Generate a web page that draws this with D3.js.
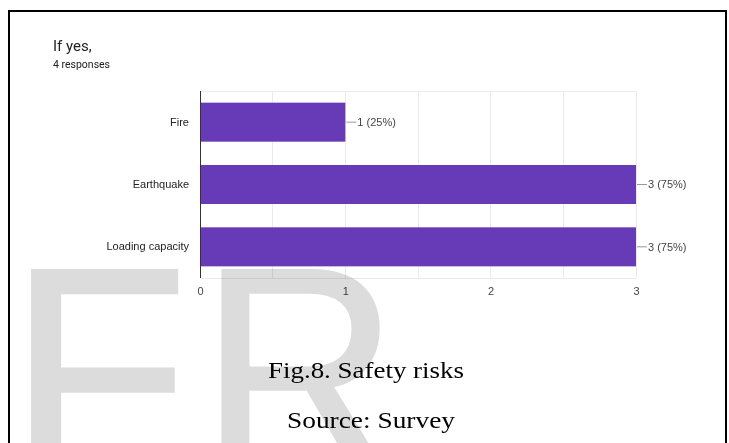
<!DOCTYPE html>
<html>
<head>
<meta charset="utf-8">
<script src="https://cdn.jsdelivr.net/npm/d3@7"></script>
<style>
  html, body { margin: 0; padding: 0; background: #fff; }
  svg { display: block; }
</style>
</head>
<body>
<svg id="chart" width="729" height="443"></svg>
<script>
const categories = ["Fire", "Earthquake", "Loading capacity"];
const counts = [1, 3, 3];
const percents = ["25%", "75%", "75%"];
const tickValues = [0, 1, 2, 3];
const gridValues = [0.5, 1, 1.5, 2, 2.5, 3];
const title = "If yes,";
const subtitle = "4 responses";
const caption = "Fig.8. Safety risks";
const source = "Source: Survey";

(function () {
const svg = d3.select("#chart");
const W = 729, H = 443;

// plot area
const pLeft = 200, pRight = 636, pTop = 91, pBottom = 278;
const x = d3.scaleLinear().domain([0, 3]).range([pLeft, pRight]);
const p = 0.374;
const y = d3.scaleBand().domain(categories).range([pTop, pBottom]).paddingInner(p).paddingOuter(p / 2);

// title
svg.append("text").attr("x", 53).attr("y", 51)
  .attr("font-family", "Roboto, sans-serif").attr("font-size", 15)
  .attr("fill", "#202124").text(title);
svg.append("text").attr("x", 53).attr("y", 68)
  .attr("font-family", "Roboto, sans-serif").attr("font-size", 10.5)
  .attr("fill", "#202124").text(subtitle);

// gridlines
const g = svg.append("g");
g.selectAll("line.v").data(gridValues).join("line")
  .attr("x1", d => x(d)).attr("x2", d => x(d))
  .attr("y1", pTop).attr("y2", pBottom)
  .attr("stroke", "#ebebeb").attr("stroke-width", 1).attr("shape-rendering", "crispEdges");
g.selectAll("line.h").data([pTop, pBottom]).join("line")
  .attr("x1", pLeft).attr("x2", pRight)
  .attr("y1", d => d).attr("y2", d => d)
  .attr("stroke", "#ebebeb").attr("stroke-width", 1).attr("shape-rendering", "crispEdges");

// bars
const data = categories.map((c, i) => ({ c, v: counts[i], pct: percents[i] }));
g.selectAll("rect.bar").data(data).join("rect")
  .attr("x", x(0)).attr("y", d => y(d.c))
  .attr("width", d => x(d.v) - x(0)).attr("height", y.bandwidth())
  .attr("fill", "#673ab7");

// leader lines + value labels
g.selectAll("line.lead").data(data).join("line")
  .attr("x1", d => x(d.v) + 1).attr("x2", d => x(d.v) + 11)
  .attr("y1", d => y(d.c) + y.bandwidth() / 2).attr("y2", d => y(d.c) + y.bandwidth() / 2)
  .attr("stroke", "#999").attr("stroke-width", 1);
g.selectAll("text.val").data(data).join("text")
  .attr("x", d => x(d.v) + 12).attr("y", d => y(d.c) + y.bandwidth() / 2)
  .attr("dy", "0.35em")
  .attr("font-family", "'Liberation Sans', Arial, sans-serif").attr("font-size", 11)
  .attr("fill", "#444").text(d => `${d.v} (${d.pct})`);

// y axis
const yAxis = svg.append("g").attr("transform", `translate(${pLeft},0)`)
  .call(d3.axisLeft(y).tickSize(0).tickPadding(11));
yAxis.select(".domain").remove();
yAxis.selectAll("text").attr("font-family", "'Liberation Sans', Arial, sans-serif")
  .attr("font-size", 11).attr("fill", "#222");

// x axis
const xAxis = svg.append("g").attr("transform", `translate(0,${pBottom})`)
  .call(d3.axisBottom(x).tickValues(tickValues).tickFormat(d3.format("d")).tickSize(0).tickPadding(9));
xAxis.select(".domain").remove();
xAxis.selectAll("text").attr("font-family", "'Liberation Sans', Arial, sans-serif")
  .attr("font-size", 11).attr("fill", "#444");

// baseline
svg.append("line").attr("x1", x(0)).attr("x2", x(0)).attr("y1", pTop).attr("y2", pBottom)
  .attr("stroke", "#333").attr("stroke-width", 1).attr("shape-rendering", "crispEdges");

// watermark (multiply blend so overlaps darken like the scan)
const wm = svg.append("g").attr("font-family", "'Liberation Sans', Arial, sans-serif")
  .attr("font-size", 296).attr("fill", "#dcdcdc").attr("stroke", "#dcdcdc")
  .attr("stroke-width", 2.5).attr("stroke-linejoin", "miter")
  .style("mix-blend-mode", "multiply");
wm.append("text").attr("x", 8).attr("y", 474).text("F");
wm.append("text").attr("transform", "translate(200,474) scale(0.93,1)").text("R");

// caption
svg.append("text").attr("x", 366).attr("y", 378).attr("text-anchor", "middle")
  .attr("font-family", "'Liberation Serif', 'Times New Roman', serif").attr("font-size", 24)
  .attr("textLength", 196).attr("lengthAdjust", "spacingAndGlyphs")
  .attr("fill", "#000").text(caption);
svg.append("text").attr("x", 371).attr("y", 428).attr("text-anchor", "middle")
  .attr("font-family", "'Liberation Serif', 'Times New Roman', serif").attr("font-size", 24)
  .attr("textLength", 168).attr("lengthAdjust", "spacingAndGlyphs")
  .attr("fill", "#000").text(source);

// frame
svg.append("path").attr("d", `M9,${H} V11 H726 V${H}`)
  .attr("fill", "none").attr("stroke", "#000").attr("stroke-width", 2);
})();
</script>
</body>
</html>
